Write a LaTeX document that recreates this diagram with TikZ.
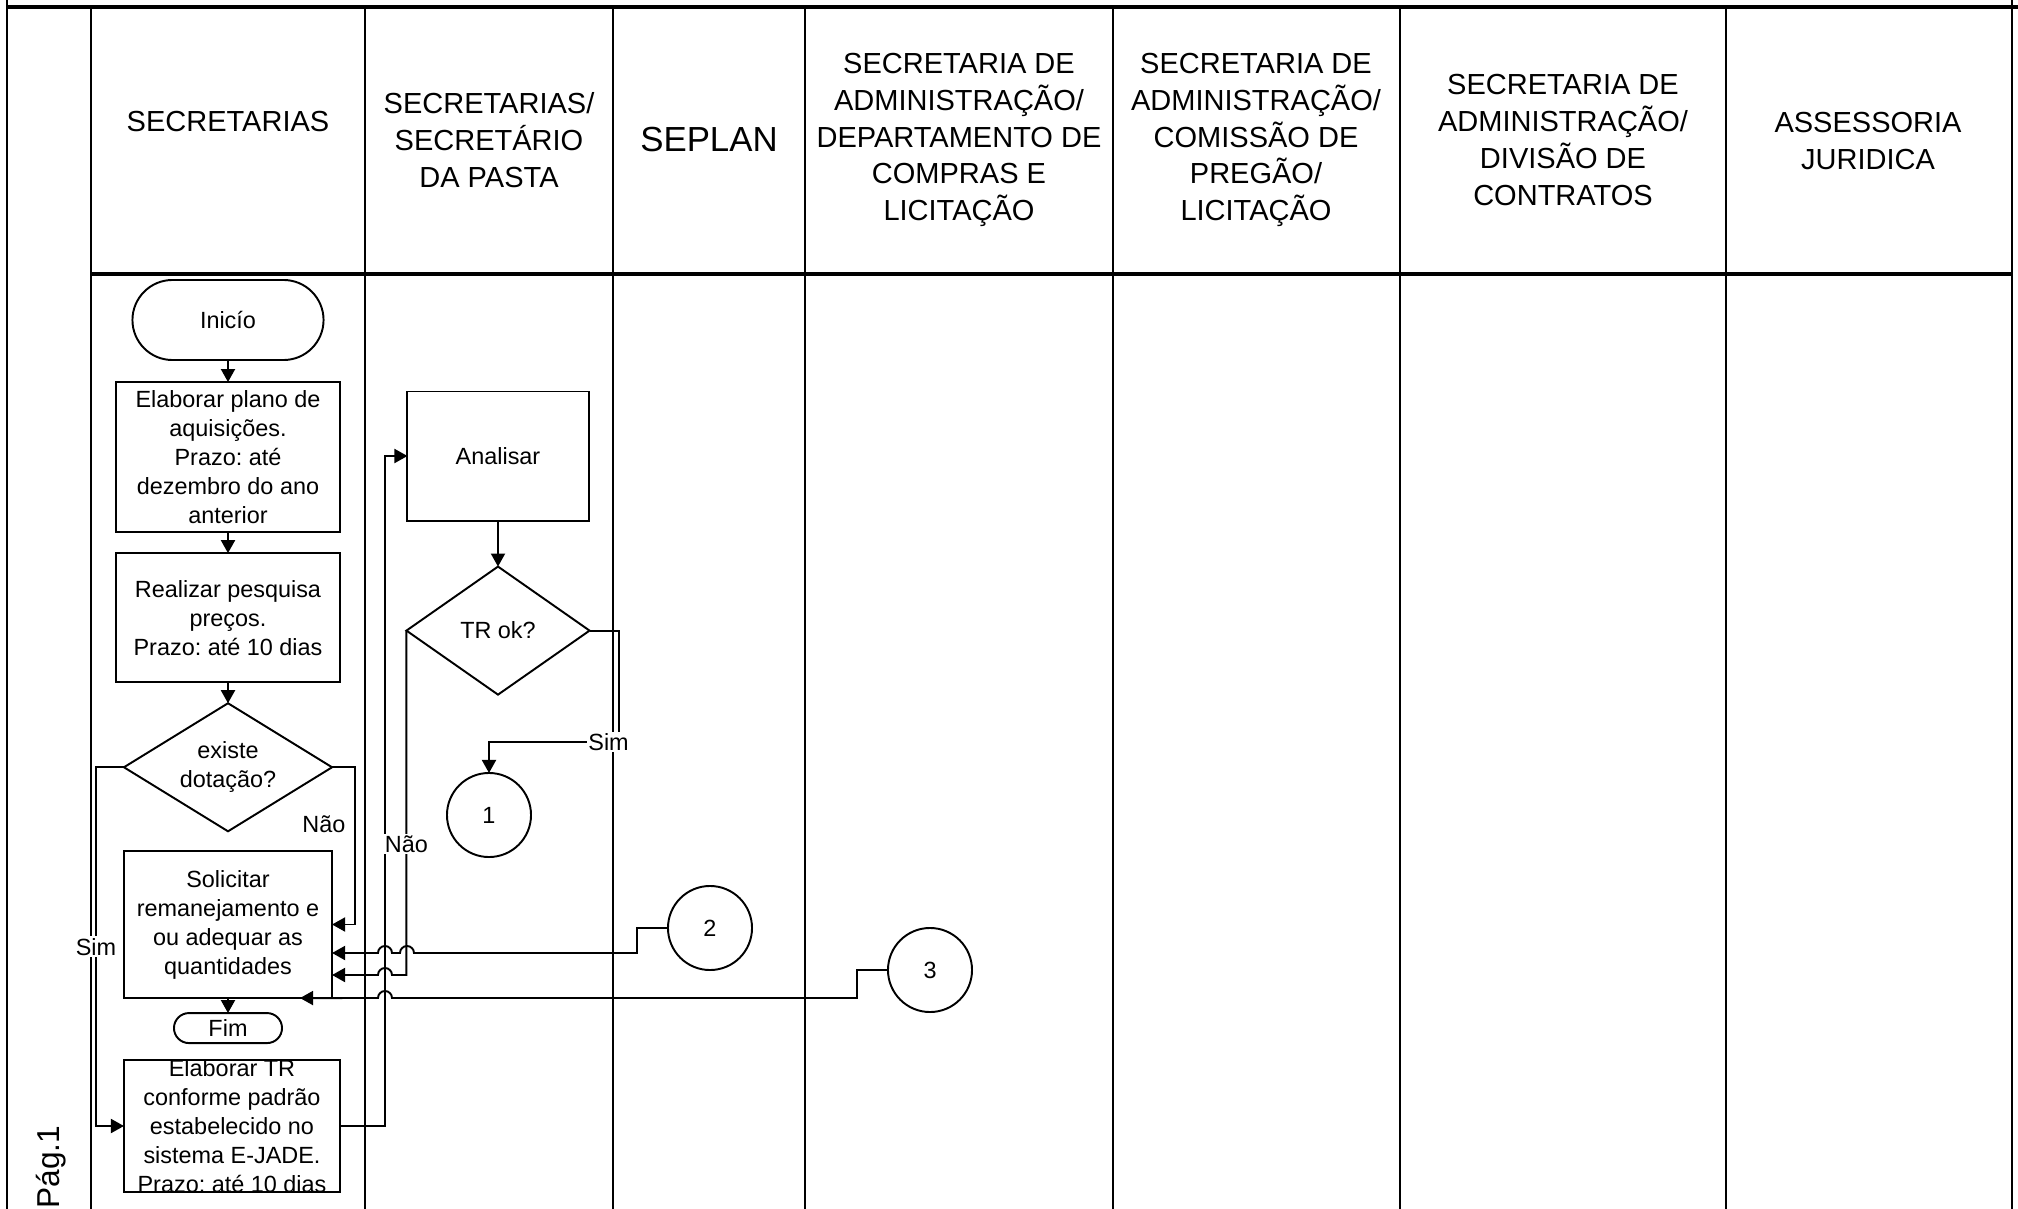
\documentclass[tikz,border=0pt]{standalone}
\usepackage{fontspec}
\setmainfont{Liberation Sans}
\usepackage{tikz}
\usetikzlibrary{arrows.meta,positioning,shapes.geometric}
\frenchspacing
\newcommand{\flowfont}{\fontsize{6.66}{8.25}\selectfont}
\newcommand{\headfont}{\fontsize{8.25}{10.5}\selectfont}

\begin{document}
\begin{tikzpicture}[x=0.01cm, y=-0.01cm,
  lane/.style={line width=0.7pt},
  lanehead/.style={align=center, inner sep=0pt, font=\headfont},
  procbox/.style={draw, line width=0.55pt, align=center, inner sep=1pt, outer sep=0pt, font=\flowfont},
  decision/.style={draw, diamond, line width=0.55pt, align=center, inner sep=0pt, outer sep=0pt, font=\flowfont},
  terminal/.style={draw, line width=0.55pt, inner sep=0pt, outer sep=0pt, font=\flowfont},
  pageconn/.style={draw, circle, line width=0.55pt, minimum size=0.84cm, inner sep=0pt, outer sep=0pt, font=\flowfont},
  flow/.style={line width=0.55pt, -{Triangle[length=1.3mm, width=1.4mm]}},
  tag/.style={fill=white, inner sep=0.5pt, font=\flowfont}]
  \useasboundingbox (0,0) rectangle (2018,1209);

  % swimlane grid
  \draw[lane] (7,0) -- (7,1209);
  \draw[lane] (2012,0) -- (2012,1209);
  \draw[line width=0.9pt] (7,7) -- (2018,7);
  \draw[line width=0.9pt] (91,274) -- (2012,274);
  \foreach \x in {91,365,613,805,1113,1400,1726}
    \draw[lane] (\x,7) -- (\x,1209);

  % lane headers
  \node[lanehead] (h1) at (228,122) {SECRETARIAS};
  \node[lanehead] (h2) at (489,140) {SECRETARIAS/\\SECRETÁRIO\\DA PASTA};
  \node[lanehead, font=\fontsize{9.9}{12}\selectfont] (h3) at (709,140) {SEPLAN};
  \node[lanehead] (h4) at (959,140) {SECRETARIA DE\\ADMINISTRAÇÃO/\\DEPARTAMENTO DE\\COMPRAS E\\LICITAÇÃO};
  \node[lanehead] (h5) at (1256,140) {SECRETARIA DE\\ADMINISTRAÇÃO/\\COMISSÃO DE\\PREGÃO/\\LICITAÇÃO};
  \node[lanehead] (h6) at (1563,140) {SECRETARIA DE\\ADMINISTRAÇÃO/\\DIVISÃO DE\\CONTRATOS};
  \node[lanehead] (h7) at (1868,141) {ASSESSORIA\\JURIDICA};
  \node[rotate=90, anchor=base west, inner sep=0pt, font=\fontsize{9}{11}\selectfont] (pg) at (59,1209) {Pág.1};

  % secretarias
  \node[terminal, rounded corners=0.4cm, minimum width=1.91cm, minimum height=0.8cm] (inicio) at (228,320) {Inicío};
  \node[procbox, minimum width=2.24cm, minimum height=1.5cm, below=0.22cm of inicio] (plano) {Elaborar plano de\\aquisições.\\Prazo: até\\dezembro do ano\\anterior};
  \node[procbox, minimum width=2.24cm, minimum height=1.29cm, below=0.21cm of plano] (pesq) {Realizar pesquisa\\preços.\\Prazo: até 10 dias};
  \node[decision, aspect=1.625, minimum width=2.08cm, minimum height=1.28cm, below=0.21cm of pesq] (dot) {existe\\dotação?};
  \node[procbox, minimum width=2.08cm, minimum height=1.47cm] (solic) at (228,924.5) {Solicitar\\remanejamento e\\ou adequar as\\quantidades};
  \node[terminal, rounded corners=0.15cm, minimum width=1.08cm, minimum height=0.3cm, below=0.15cm of solic] (fim) {Fim};
  \node[procbox, minimum width=2.16cm, minimum height=1.32cm] (etr) at (232,1126) {};
  \node[font=\flowfont, align=center, inner sep=0pt] (etrtext) at (etr.center) {Elaborar TR\\conforme padrão\\estabelecido no\\sistema E-JADE.\\Prazo: até 10 dias};

  % secretario da pasta
  \node[procbox, minimum width=1.81cm, minimum height=1.29cm] (anal) at (498,456) {Analisar};
  \node[decision, aspect=1.43, minimum width=1.83cm, minimum height=1.28cm, below=0.46cm of anal] (trok) {TR ok?};
  \node[pageconn] (c1) at (489,815) {1};
  \node[pageconn] (c2) at (710,928) {2};
  \node[pageconn] (c3) at (930,970) {3};

  \draw[flow] (inicio) -- (plano);
  \draw[flow] (plano) -- (pesq);
  \draw[flow] (pesq) -- (dot);
  \draw[flow] (solic) -- (fim);
  \draw[flow] (anal) -- (trok);
  \draw[flow] (dot.west) -- ++(-28,0) |- node[tag, pos=0.25] (simdot) {Sim} (etr.west);
  \draw[flow] (dot.east) -- ++(23,0) |- node[pos=0.18, left=0.07cm, font=\flowfont, inner sep=0.5pt] (naodot) {Não} (solic.east);
  \draw[flow] (etr.east) -- (385,1126) |- (anal.west);
  \draw[flow] (trok.east) -- ++(29,0) |- node[tag, pos=0.5, xshift=-0.1cm] (simtr) {Sim} (c1.north |- 0,742) -- (c1.north);
  \draw[flow] (trok.west) |- node[tag, pos=0.31] (naotr) {Não} (392,975)
    arc[start angle=0, end angle=180, radius=0.07cm] -- (solic.east |- 0,975);
  \draw[flow] (c2.west) -- (637,928) |- (414,953)
    arc[start angle=0, end angle=180, radius=0.07cm] -- (392,953)
    arc[start angle=0, end angle=180, radius=0.07cm] -- (solic.east |- 0,953);
  \draw[flow] (c3.west) -- (857,970) |- (392,998)
    arc[start angle=0, end angle=180, radius=0.07cm] -- ([xshift=-0.32cm]solic.south east);
\end{tikzpicture}
\end{document}
